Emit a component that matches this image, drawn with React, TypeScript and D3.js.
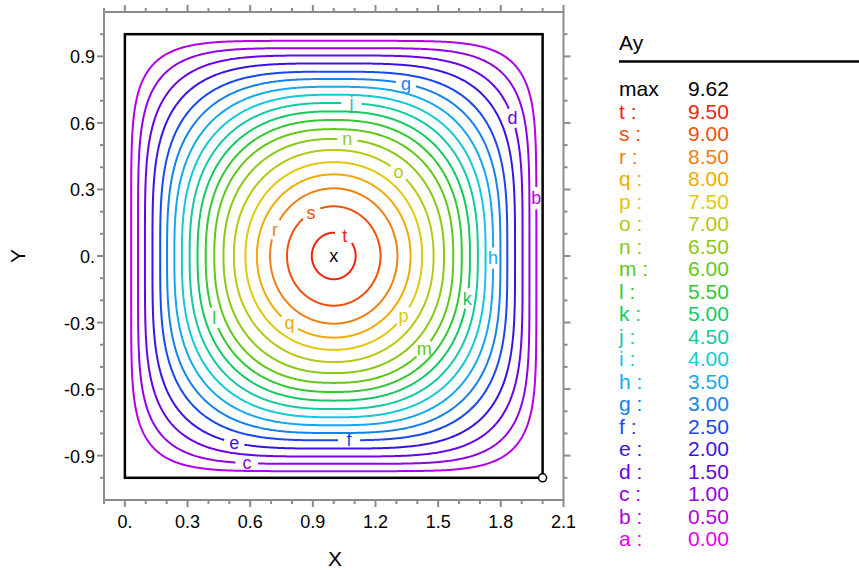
import React from "react";
import * as d3 from "d3";

// ---- data ----
const levelLetters = ["b","c","d","e","f","g","h","i","j","k","l","m","n","o","p","q","r","s","t"];
const levelValues = [0.5,1.0,1.5,2.0,2.5,3.0,3.5,4.0,4.5,5.0,5.5,6.0,6.5,7.0,7.5,8.0,8.5,9.0,9.5];
// half-width of each contour measured along the axes through the centre (data units)
const axisRadius = [0.97,0.937,0.904,0.868,0.831,0.798,0.763,0.727,0.69,0.652,0.613,0.572,0.528,0.478,0.423,0.368,0.305,0.224,0.105];
// offset of the point where each contour crosses the diagonal (data units)
const diagRadius = [0.864,0.816,0.767,0.72,0.674,0.634,0.596,0.56,0.526,0.492,0.459,0.426,0.388,0.346,0.304,0.262,0.216,0.158,0.074];
// angle (deg) around the centre where each contour carries its letter (null = none)
const labelAngle = [15,246,36,240.5,-85,66,-0.7,null,83,-16.7,206,-44,83,50.6,-39,235,157,119,60];
const levelColors = ["#b400e6","#9200e6","#6c00e6","#3a14e6","#1848ee","#1482ec","#14a8f0","#14c8d8","#14c8a0","#14c864","#32c832","#60c814","#8cc814","#b4c814","#e0c80a","#f0aa00","#f08014","#f0500a","#f0240a"];

const legendLetters = ["t","s","r","q","p","o","n","m","l","k","j","i","h","g","f","e","d","c","b","a"];
const legendValues = ["9.50","9.00","8.50","8.00","7.50","7.00","6.50","6.00","5.50","5.00","4.50","4.00","3.50","3.00","2.50","2.00","1.50","1.00","0.50","0.00"];
const legendColors = ["#f0240a","#f0500a","#f08014","#f0aa00","#e0c80a","#b4c814","#8cc814","#60c814","#32c832","#14c864","#14c8a0","#14c8d8","#14a8f0","#1482ec","#1848ee","#3a14e6","#6c00e6","#9200e6","#b400e6","#e600e6"];
const maxValue = "9.62";
const maxPoint = [1.0, 0.0];
const minPoint = [2.0, -1.0];
const domainBox = [0, 2, -1, 1];

const xMajor = [0, 0.3, 0.6, 0.9, 1.2, 1.5, 1.8, 2.1];
const xMajorLabels = ["0.", "0.3", "0.6", "0.9", "1.2", "1.5", "1.8", "2.1"];
const yMajor = [-0.9, -0.6, -0.3, 0, 0.3, 0.6, 0.9];
const yMajorLabels = ["-0.9", "-0.6", "-0.3", "0.", "0.3", "0.6", "0.9"];

const W = 859, H = 574;
const FONT = "'Liberation Sans', Arial, sans-serif";

export default function App() {
  const x = d3.scaleLinear().domain([-0.1, 2.1]).range([104, 563.5]);
  const y = d3.scaleLinear().domain([-1.1, 1.1]).range([500, 12]);
  const gray = "#8c8c8c";
  const x0 = x(-0.1), x1 = x(2.1), y0 = y(-1.1), y1 = y(1.1);

  const xMinor = d3.range(-1, 22).map((i) => i / 10).filter((v) => Math.abs(Math.round(v * 10) % 3) !== 0);
  const yMinor = d3.range(-10, 11).map((i) => i / 10).filter((v) => Math.abs(Math.round(v * 10) % 3) !== 0);

  const line = d3.line<[number, number]>().x((p) => p[0]).y((p) => p[1]);

  const contours = levelValues.map((_, i) => {
    const a = axisRadius[i];
    const n = Math.log(2) / Math.log(a / diagRadius[i]);
    const la = labelAngle[i];
    const start = la == null ? 0 : ((la + 180) * Math.PI) / 180;
    const N = 900;
    const pt = (phi: number): [number, number] => {
      const c = Math.cos(phi), s = Math.sin(phi);
      const r = a / Math.pow(Math.pow(Math.abs(c), n) + Math.pow(Math.abs(s), n), 1 / n);
      return [x(maxPoint[0] + r * c), y(maxPoint[1] + r * s)];
    };
    let labelPos: [number, number] | null = null;
    if (la != null) labelPos = pt((la * Math.PI) / 180);
    const segs: [number, number][][] = [];
    let cur: [number, number][] = [];
    for (let k = 0; k <= N; k++) {
      const p = pt(start + (2 * Math.PI * k) / N);
      if (labelPos && Math.hypot(p[0] - labelPos[0], p[1] - labelPos[1]) < 10) {
        if (cur.length > 1) segs.push(cur);
        cur = [];
      } else cur.push(p);
    }
    if (cur.length > 1) segs.push(cur);
    return { segs, labelPos, color: levelColors[i], letter: levelLetters[i] };
  });

  return (
    <svg width={W} height={H} style={{ position: "fixed", left: 0, top: 0, background: "#fff" }} fontFamily={FONT}>
      {/* frame */}
      <rect x={x0} y={y1} width={x1 - x0} height={y0 - y1} fill="none" stroke={gray} strokeWidth={2} />
      {xMajor.map((v, i) => (
        <g key={"xm" + i}>
          <line x1={x(v)} x2={x(v)} y1={y0} y2={y0 + 7} stroke={gray} strokeWidth={2} />
          <line x1={x(v)} x2={x(v)} y1={y1} y2={y1 - 7} stroke={gray} strokeWidth={2} />
          <text x={x(v)} y={528} textAnchor="middle" fontSize={18} fill="#000">{xMajorLabels[i]}</text>
        </g>
      ))}
      {xMinor.map((v, i) => (
        <g key={"xn" + i}>
          <line x1={x(v)} x2={x(v)} y1={y0} y2={y0 + 4} stroke={gray} strokeWidth={2} />
          <line x1={x(v)} x2={x(v)} y1={y1} y2={y1 - 4} stroke={gray} strokeWidth={2} />
        </g>
      ))}
      {yMajor.map((v, i) => (
        <g key={"ym" + i}>
          <line x1={x0} x2={x0 - 7} y1={y(v)} y2={y(v)} stroke={gray} strokeWidth={2} />
          <line x1={x1} x2={x1 + 7} y1={y(v)} y2={y(v)} stroke={gray} strokeWidth={2} />
          <text x={95} y={y(v) + 7} textAnchor="end" fontSize={18} fill="#000">{yMajorLabels[i]}</text>
        </g>
      ))}
      {yMinor.map((v, i) => (
        <g key={"yn" + i}>
          <line x1={x0} x2={x0 - 4} y1={y(v)} y2={y(v)} stroke={gray} strokeWidth={2} />
          <line x1={x1} x2={x1 + 4} y1={y(v)} y2={y(v)} stroke={gray} strokeWidth={2} />
        </g>
      ))}
      <text x={335} y={566} textAnchor="middle" fontSize={21}>X</text>
      <text transform={`translate(25,256) rotate(-90)`} textAnchor="middle" fontSize={21}>Y</text>

      {/* domain boundary */}
      <rect x={x(domainBox[0])} y={y(domainBox[3])} width={x(domainBox[1]) - x(domainBox[0])} height={y(domainBox[2]) - y(domainBox[3])} fill="none" stroke="#000" strokeWidth={2.5} />

      {/* contours */}
      {contours.map((c, i) => (
        <g key={"c" + i}>
          {c.segs.map((s, j) => (
            <path key={j} d={line(s) || ""} fill="none" stroke={c.color} strokeWidth={2} strokeLinejoin="round" />
          ))}
          {c.labelPos && (
            <text x={c.labelPos[0]} y={c.labelPos[1]} textAnchor="middle" dominantBaseline="central" fontSize={18} fill={c.color}>{c.letter}</text>
          )}
        </g>
      ))}
      <text x={x(maxPoint[0])} y={y(maxPoint[1])} textAnchor="middle" dominantBaseline="central" fontSize={18} fill="#000">x</text>
      <circle cx={x(minPoint[0])} cy={y(minPoint[1])} r={4} fill="#fff" stroke="#000" strokeWidth={1.5} />

      {/* legend */}
      <text x={619} y={50} fontSize={21} fill="#000">Ay</text>
      <line x1={619} x2={859} y1={61.5} y2={61.5} stroke="#000" strokeWidth={2.5} />
      <text x={619} y={96} fontSize={21} fill="#000">max</text>
      <text x={688} y={96} fontSize={21} fill="#000">{maxValue}</text>
      {legendLetters.map((l, i) => (
        <g key={"lg" + i} fill={legendColors[i]}>
          <text x={619} y={96 + (i + 1) * 22.5} fontSize={21}>{l + " :"}</text>
          <text x={688} y={96 + (i + 1) * 22.5} fontSize={21}>{legendValues[i]}</text>
        </g>
      ))}
    </svg>
  );
}
